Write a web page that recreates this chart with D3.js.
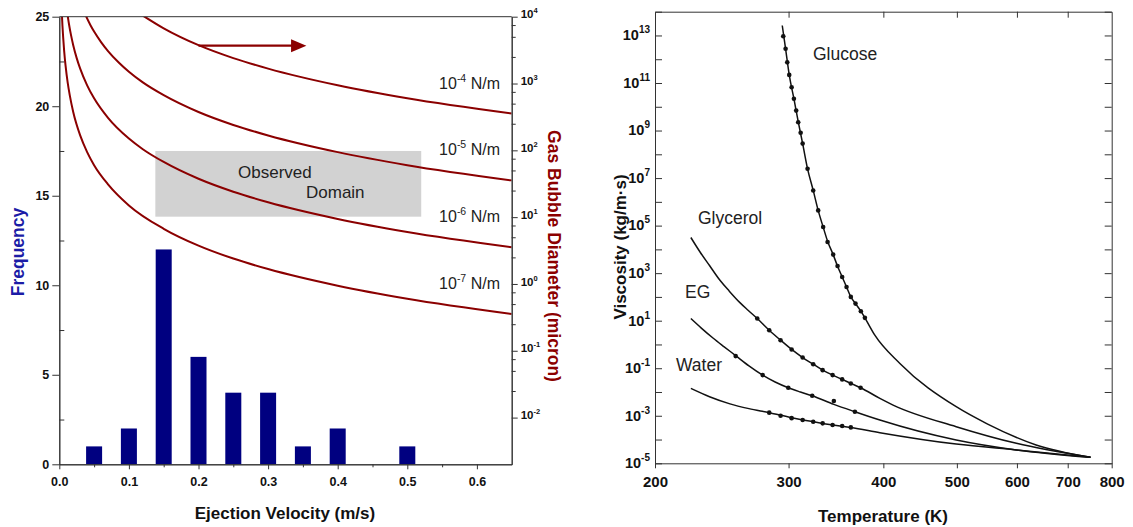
<!DOCTYPE html>
<html lang="en">
<head>
<meta charset="UTF-8">
<title>Ejection velocity and viscosity</title>
<script src="https://d3js.org/d3.v7.min.js"></script>
<style>
  body { margin: 0; background: #fff; }
  svg { font-family: "Liberation Sans", Arial, sans-serif; }
  .tick text { font-weight: bold; fill: #111; }
  .axis path, .axis line { stroke: #333; }
</style>
</head>
<body>
<script>
// ---------- left panel: histogram + bubble diameter curves ----------
var velocityBins = [0.05, 0.10, 0.15, 0.20, 0.25, 0.30, 0.35, 0.40, 0.50];
var frequency    = [1, 2, 12, 6, 4, 4, 1, 2, 1];

// diameter (micron), one list per surface tension
var tensionExp = ["-4", "-5", "-6", "-7"];
var vel4 = [0.12, 0.15, 0.2, 0.25, 0.3, 0.4, 0.5, 0.65];
var dia4 = [10400, 6700, 3750, 2400, 1670, 940, 600, 355];
var vel5 = [0.038, 0.045, 0.05, 0.06, 0.07, 0.085, 0.1, 0.12, 0.15, 0.2, 0.25, 0.3, 0.4, 0.5, 0.65];
var dia5 = [10400, 7400, 6000, 4170, 3060, 2080, 1500, 1040, 670, 375, 240, 167, 94, 60, 35.5];
var vel6 = [0.012, 0.014, 0.017, 0.02, 0.025, 0.03, 0.04, 0.05, 0.07, 0.1, 0.12, 0.15, 0.2, 0.25, 0.3, 0.4, 0.5, 0.65];
var dia6 = [10400, 7650, 5200, 3750, 2400, 1670, 940, 600, 306, 150, 104, 67, 37.5, 24, 16.7, 9.4, 6, 3.55];
var vel7 = [0.0037, 0.0045, 0.0055, 0.007, 0.009, 0.012, 0.015, 0.02, 0.03, 0.04, 0.05, 0.07, 0.1, 0.15, 0.2, 0.25, 0.3, 0.4, 0.5, 0.65];
var dia7 = [11000, 7400, 5000, 3060, 1850, 1040, 670, 375, 167, 94, 60, 31, 15, 6.7, 3.75, 2.4, 1.67, 0.94, 0.6, 0.355];
var diaLabelY = [1000, 100, 10, 1];

var freqTicks = [0, 5, 10, 15, 20, 25];
var velTicks = [0, 0.1, 0.2, 0.3, 0.4, 0.5, 0.6];
var diaDecades = [-2, -1, 0, 1, 2, 3, 4];

// ---------- right panel: viscosity vs temperature (log10 of kg/m.s) ----------
var glucoseT   = [294.3, 297.3, 300.6, 304.9, 309, 313.1, 317.8, 323.3, 328.2, 333.2, 338, 343.5, 348, 353, 357.7, 362.4, 367.6, 373.6, 378.2, 389.8, 420.6, 499, 549, 636, 750];
var glucoseLog = [13.42, 12.44, 11.34, 10.34, 9.35, 8.45, 7.39, 6.48, 5.64, 4.94, 4.31, 3.78, 3.30, 2.84, 2.42, 2.0, 1.72, 1.40, 1.12, 0.39, -0.80, -2.62, -3.35, -4.23, -4.75];
var glucoseDotT   = [295.2, 297.3, 298.8, 300.6, 302.8, 304.9, 307, 308.9, 311.2, 313.1, 317.8, 323.3, 328.2, 333.2, 337.7, 343.5, 348.1, 353, 357.7, 362.4, 367.6, 373.6, 378.2];
var glucoseDotLog = [12.97, 12.44, 11.87, 11.34, 10.82, 10.34, 9.84, 9.35, 8.91, 8.45, 7.39, 6.48, 5.64, 4.94, 4.31, 3.78, 3.30, 2.84, 2.42, 2.0, 1.72, 1.40, 1.12];

var glycerolT   = [223, 229.3, 236, 243.6, 250.5, 258.8, 265.5, 272.8, 282.9, 292.8, 302.8, 313.1, 323.3, 332.7, 342.9, 353, 362.4, 373.3, 395.8, 412, 499, 599, 750];
var glycerolLog = [4.5, 3.89, 3.32, 2.70, 2.25, 1.76, 1.43, 1.09, 0.60, 0.18, -0.21, -0.55, -0.83, -1.08, -1.29, -1.47, -1.64, -1.82, -2.27, -2.55, -3.46, -4.16, -4.75];
var glycerolDotT   = [272.8, 282.9, 292.8, 302.8, 313.1, 323.3, 332.7, 342.9, 353, 362.4, 373.3];
var glycerolDotLog = [1.09, 0.60, 0.18, -0.21, -0.55, -0.83, -1.08, -1.29, -1.47, -1.64, -1.82];

var egT   = [223, 230, 238.7, 246.5, 255.5, 266, 277.3, 288, 299.7, 311, 322.3, 344.2, 366.9, 395.8, 499, 599, 750];
var egLog = [1.09, 0.70, 0.26, -0.09, -0.47, -0.90, -1.29, -1.58, -1.82, -2.0, -2.16, -2.52, -2.83, -3.18, -4.02, -4.44, -4.75];
var egDotT   = [255.5, 277.3, 299.7, 322.3, 344.2, 366.9];
var egDotLog = [-0.49, -1.29, -1.82, -2.16, -2.38, -2.83];

var waterT   = [223, 236, 251.1, 266, 282.9, 302.8, 323.3, 342.9, 362.4, 395.8, 499, 599, 750];
var waterLog = [-1.85, -2.2, -2.5, -2.7, -2.87, -3.08, -3.25, -3.39, -3.49, -3.71, -4.19, -4.44, -4.75];
var waterDotT   = [282.9, 292.8, 302.8, 313.1, 323.3, 332.7, 342.9, 353, 362.4];
var waterDotLog = [-2.87, -3.0, -3.10, -3.18, -3.25, -3.32, -3.39, -3.43, -3.49];

var tempTicks = [200, 300, 400, 500, 600, 700, 800];

var red = "#8b0000", navy = "#000080";

var svg = d3.select("body").append("svg")
    .attr("width", 1133)
    .attr("height", 527);

// ================= left panel =================
var x = d3.scaleLinear().domain([0, 0.65]).range([59.3, 511.7]);
var yF = d3.scaleLinear().domain([0, 25]).range([464.3, 16.7]);
var yD = d3.scaleLog().domain([0.002, 10000]).range([464.3, 16.7]);

var left = svg.append("g");

left.append("clipPath").attr("id", "clipL")
  .append("rect")
    .attr("x", x(0)).attr("y", yF(25))
    .attr("width", x(0.65) - x(0)).attr("height", yF(0) - yF(25));

// observed domain box
left.append("rect")
    .attr("x", x(0.138)).attr("y", yF(17.5))
    .attr("width", x(0.52) - x(0.138))
    .attr("height", yF(13.83) - yF(17.5))
    .attr("fill", "#d2d2d2");
left.append("text").attr("x", 238).attr("y", 178)
    .attr("font-size", 17).attr("fill", "#222").text("Observed");
left.append("text").attr("x", 306).attr("y", 198)
    .attr("font-size", 17).attr("fill", "#222").text("Domain");

// histogram bars
var barW = x(0.023) - x(0);
left.selectAll(".bar")
  .data(velocityBins)
  .enter().append("rect")
    .attr("class", "bar")
    .attr("x", function(d) { return x(d) - barW / 2; })
    .attr("y", function(d, i) { return yF(frequency[i]); })
    .attr("width", barW)
    .attr("height", function(d, i) { return yF(0) - yF(frequency[i]); })
    .attr("fill", navy);

// diameter curves
var curves = [[vel4, dia4], [vel5, dia5], [vel6, dia6], [vel7, dia7]];
var diaLine = d3.line()
    .x(function(d) { return x(d[0]); })
    .y(function(d) { return yD(d[1]); })
    .curve(d3.curveMonotoneX);
left.append("g").attr("clip-path", "url(#clipL)")
  .selectAll("path")
  .data(curves)
  .enter().append("path")
    .attr("d", function(c) { return diaLine(d3.zip(c[0], c[1])); })
    .attr("fill", "none")
    .attr("stroke", red)
    .attr("stroke-width", 2);

// arrow pointing at the right axis
left.append("line")
    .attr("x1", x(0.2)).attr("x2", x(0.335))
    .attr("y1", yF(23.38)).attr("y2", yF(23.38))
    .attr("stroke", red).attr("stroke-width", 2.2);
left.append("path")
    .attr("d", "M" + x(0.333) + "," + (yF(23.38) - 6.5) +
               "L" + x(0.355) + "," + yF(23.38) +
               "L" + x(0.333) + "," + (yF(23.38) + 6.5) + "Z")
    .attr("fill", red);

// tension labels
tensionExp.forEach(function(e, i) {
  var t = left.append("text")
      .attr("x", 500).attr("y", yD(diaLabelY[i]) + 5)
      .attr("text-anchor", "end")
      .attr("font-size", 16).attr("fill", "#222");
  t.append("tspan").text("10");
  t.append("tspan").attr("dy", -7).attr("font-size", 10.5).text(e);
  t.append("tspan").attr("dy", 7).text(" N/m");
});

// axes
var axL = left.append("g").attr("class", "axis")
    .attr("transform", "translate(" + x(0) + ",0)")
    .call(d3.axisLeft(yF).tickValues(freqTicks).tickSize(7).tickSizeOuter(0).tickPadding(3));
axL.selectAll("text").attr("font-size", 12.5);
left.append("g").attr("class", "axis")
    .attr("transform", "translate(" + x(0) + ",0)")
    .call(d3.axisRight(yF).tickValues([2.5, 7.5, 12.5, 17.5, 22.5]).tickSize(5).tickFormat("").tickSizeOuter(0));

var axB = left.append("g").attr("class", "axis")
    .attr("transform", "translate(0," + yF(0) + ")")
    .call(d3.axisBottom(x).tickValues(velTicks).tickFormat(d3.format(".1f")).tickSize(5).tickSizeOuter(0).tickPadding(8));
axB.selectAll("text").attr("font-size", 12.5);
left.append("g").attr("class", "axis")
    .attr("transform", "translate(0," + yF(0) + ")")
    .call(d3.axisBottom(x).tickValues([0.05, 0.15, 0.25, 0.35, 0.45, 0.55]).tickSize(3).tickFormat("").tickSizeOuter(0));

var decadeVals = diaDecades.map(function(e) { return Math.pow(10, e); });
var axR = left.append("g").attr("class", "axis")
    .attr("transform", "translate(" + x(0.65) + ",0)")
    .call(d3.axisRight(yD).tickValues(decadeVals).tickSize(6).tickSizeOuter(0).tickPadding(3));
axR.selectAll("text").each(function(d, i) {
  var t = d3.select(this).text("").attr("font-size", 11.5).attr("dy", "0.1em");
  t.append("tspan").text("10");
  t.append("tspan").attr("dy", -5).attr("font-size", 7.5).text(diaDecades[i]);
});
var minorD = [];
diaDecades.forEach(function(e) {
  [2.5, 5, 7.5].forEach(function(m) {
    var v = m * Math.pow(10, e);
    if (v > 0.002 && v < 10000) minorD.push(v);
  });
});
left.append("g").attr("class", "axis")
    .attr("transform", "translate(" + x(0.65) + ",0)")
    .call(d3.axisRight(yD).tickValues(minorD).tickSize(4).tickFormat("").tickSizeOuter(0));

left.append("line")
    .attr("x1", x(0)).attr("x2", x(0.65))
    .attr("y1", yF(25)).attr("y2", yF(25))
    .attr("stroke", "#333");

// axis titles
left.append("text")
    .attr("transform", "translate(24,252) rotate(-90)")
    .attr("text-anchor", "middle")
    .attr("font-size", 17.5).attr("font-weight", "bold").attr("fill", "#1c1ca6")
    .text("Frequency");
left.append("text")
    .attr("transform", "translate(548,256) rotate(90)")
    .attr("text-anchor", "middle")
    .attr("font-size", 17.5).attr("font-weight", "bold").attr("fill", red)
    .text("Gas Bubble Diameter (micron)");
left.append("text")
    .attr("x", 285).attr("y", 519)
    .attr("text-anchor", "middle")
    .attr("font-size", 17).attr("font-weight", "bold").attr("fill", "#111")
    .text("Ejection Velocity (m/s)");

// ================= right panel =================
var xT = d3.scaleLog().domain([200, 800]).range([655, 1111.7]);
var yV = d3.scaleLog().domain([1e-5, 1e14]).range([463.3, 11.7]);

var right = svg.append("g");

var viscLine = d3.line()
    .x(function(d) { return xT(d[0]); })
    .y(function(d) { return yV(Math.pow(10, d[1])); })
    .curve(d3.curveMonotoneX);

var fluids = [
  { T: glucoseT, L: glucoseLog, dT: glucoseDotT, dL: glucoseDotLog },
  { T: glycerolT, L: glycerolLog, dT: glycerolDotT, dL: glycerolDotLog },
  { T: egT, L: egLog, dT: egDotT, dL: egDotLog },
  { T: waterT, L: waterLog, dT: waterDotT, dL: waterDotLog }
];

fluids.forEach(function(f) {
  right.append("path")
      .attr("d", viscLine(d3.zip(f.T, f.L)))
      .attr("fill", "none")
      .attr("stroke", "#111")
      .attr("stroke-width", 1.5);
  right.selectAll(null)
    .data(d3.zip(f.dT, f.dL))
    .enter().append("circle")
      .attr("cx", function(d) { return xT(d[0]); })
      .attr("cy", function(d) { return yV(Math.pow(10, d[1])); })
      .attr("r", 2.3)
      .attr("fill", "#111");
});

var names = [["Glucose", 813, 60], ["Glycerol", 698, 224], ["EG", 685, 298], ["Water", 676, 371]];
names.forEach(function(n) {
  right.append("text").attr("x", n[1]).attr("y", n[2])
      .attr("font-size", 17.5).attr("fill", "#222").text(n[0]);
});

var vDecades = d3.range(-5, 15);
var vVals = vDecades.map(function(e) { return Math.pow(10, e); });

var axVL = right.append("g").attr("class", "axis")
    .attr("transform", "translate(" + xT(200) + ",0)")
    .call(d3.axisLeft(yV).tickValues(vVals).tickSize(-7).tickSizeOuter(0).tickPadding(5));
axVL.selectAll("text").each(function(d, i) {
  var e = vDecades[i];
  var t = d3.select(this).text("").attr("font-size", 14.5).attr("dy", "0.3em");
  if (Math.abs(e) % 2 === 1) {
    t.append("tspan").text("10");
    t.append("tspan").attr("dy", -7).attr("font-size", 10).text(e);
  }
});
right.append("g").attr("class", "axis")
    .attr("transform", "translate(" + xT(800) + ",0)")
    .call(d3.axisRight(yV).tickValues(vVals).tickSize(-7).tickSizeOuter(0).tickFormat(""));

var axVB = right.append("g").attr("class", "axis")
    .attr("transform", "translate(0," + yV(1e-5) + ")")
    .call(d3.axisBottom(xT).tickValues(tempTicks).tickFormat(d3.format("d")).tickSize(5).tickSizeOuter(0).tickPadding(8));
axVB.selectAll("text").attr("font-size", 15);
right.append("g").attr("class", "axis")
    .attr("transform", "translate(0," + yV(1e14) + ")")
    .call(d3.axisTop(xT).tickValues(tempTicks.slice(1, -1)).tickSize(-6).tickSizeOuter(0).tickFormat(""));

right.append("text")
    .attr("transform", "translate(626,247) rotate(-90)")
    .attr("text-anchor", "middle")
    .attr("font-size", 17).attr("font-weight", "bold").attr("fill", "#111")
    .text("Viscosity (kg/m\u00b7s)");
right.append("text")
    .attr("x", 883).attr("y", 522)
    .attr("text-anchor", "middle")
    .attr("font-size", 17).attr("font-weight", "bold").attr("fill", "#111")
    .text("Temperature (K)");
</script>
</body>
</html>
